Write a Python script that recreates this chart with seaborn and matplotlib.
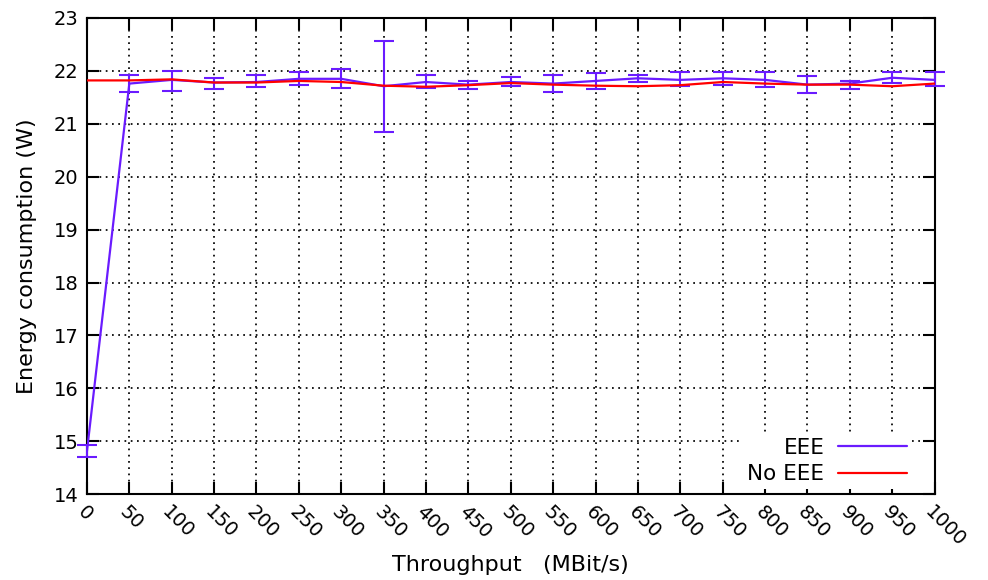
import matplotlib
matplotlib.use("Agg")
import matplotlib.pyplot as plt
import seaborn as sns
import pandas as pd
import numpy as np

# Throughput steps (MBit/s)
throughput = [0, 50, 100, 150, 200, 250, 300, 350, 400, 450, 500,
              550, 600, 650, 700, 750, 800, 850, 900, 950, 1000]

# Mean power draw with Energy Efficient Ethernet enabled (W)
eee_mean = [14.81, 21.76, 21.83, 21.78, 21.79, 21.85, 21.85, 21.71, 21.79, 21.74, 21.79,
            21.76, 21.81, 21.86, 21.83, 21.86, 21.83, 21.74, 21.76, 21.87, 21.83]
# Error bar bounds for the EEE measurements (W)
eee_low = [14.71, 21.60, 21.62, 21.66, 21.69, 21.73, 21.68, 20.85, 21.68, 21.66, 21.71,
           21.61, 21.66, 21.79, 21.71, 21.74, 21.69, 21.59, 21.66, 21.78, 21.71]
eee_high = [14.92, 21.92, 21.99, 21.87, 21.93, 21.97, 22.03, 22.56, 21.93, 21.81, 21.88,
            21.92, 21.96, 21.93, 21.98, 21.98, 21.97, 21.90, 21.81, 21.98, 21.97]

# Mean power draw with EEE disabled (W)
noeee_mean = [21.82, 21.82, 21.84, 21.78, 21.78, 21.81, 21.79, 21.72, 21.70, 21.73, 21.77,
              21.74, 21.72, 21.71, 21.73, 21.79, 21.76, 21.74, 21.74, 21.71, 21.76]

x_ticks = list(range(0, 1001, 50))
y_ticks = list(range(14, 24))

sns.set_theme(style="white")
plt.rcParams['font.family'] = ['DejaVu Sans']
plt.rcParams['text.color'] = 'black'
plt.rcParams['axes.labelcolor'] = 'black'

blue = "#6a1bff"
red = "#ff0000"

fig = plt.figure(figsize=(9.88, 5.8), dpi=100)
ax = fig.add_axes([0.088, 0.148, 0.858, 0.821])

df = pd.DataFrame({"x": throughput, "eee": eee_mean, "noeee": noeee_mean})

mean = np.array(eee_mean)
yerr = [mean - np.array(eee_low), np.array(eee_high) - mean]
eb = ax.errorbar(throughput, eee_mean, yerr=yerr, fmt="none", ecolor=blue,
                 elinewidth=1.5, capsize=7, capthick=1.5, zorder=3)
for part in eb.lines[1] + eb.lines[2]:
    part.set_clip_on(False)
sns.lineplot(data=df, x="x", y="eee", ax=ax, color=blue, linewidth=1.6,
             label="EEE", zorder=3)
sns.lineplot(data=df, x="x", y="noeee", ax=ax, color=red, linewidth=1.6,
             label="No EEE", zorder=4)

ax.set_xlim(0, 1000)
ax.set_ylim(14, 23)
ax.set_xticks(x_ticks)
ax.set_yticks(y_ticks)
ax.set_xticklabels([str(v) for v in x_ticks], rotation=-45, ha="left",
                   va="top", rotation_mode="anchor", fontsize=14)
ax.set_yticklabels([str(v) for v in y_ticks], fontsize=14)

ax.grid(True, color="black", linestyle=(0, (1, 2.6)), linewidth=1.25)
ax.tick_params(axis="both", direction="in", length=8.5, width=1.5,
               top=True, right=True, bottom=True, left=True, pad=6,
               colors="black", labelcolor="black")
for s in ax.spines.values():
    s.set_color("black")
    s.set_linewidth(1.5)

ax.set_xlabel("Throughput   (MBit/s)", fontsize=16, labelpad=3)
ax.set_ylabel("Energy consumption (W)", fontsize=16, labelpad=12)

leg = ax.legend(loc="lower right", bbox_to_anchor=(0.979, 0.0),
                frameon=True, markerfirst=False, fontsize=15.5,
                handlelength=3.2, handletextpad=0.65, borderaxespad=0.25,
                edgecolor="white", framealpha=1.0, fancybox=False,
                labelspacing=0.3, borderpad=0.2)
leg.get_frame().set_linewidth(0)
leg.set_zorder(5)
for t in leg.get_texts():
    t.set_color("black")

fig.savefig("out.png", dpi=100)
